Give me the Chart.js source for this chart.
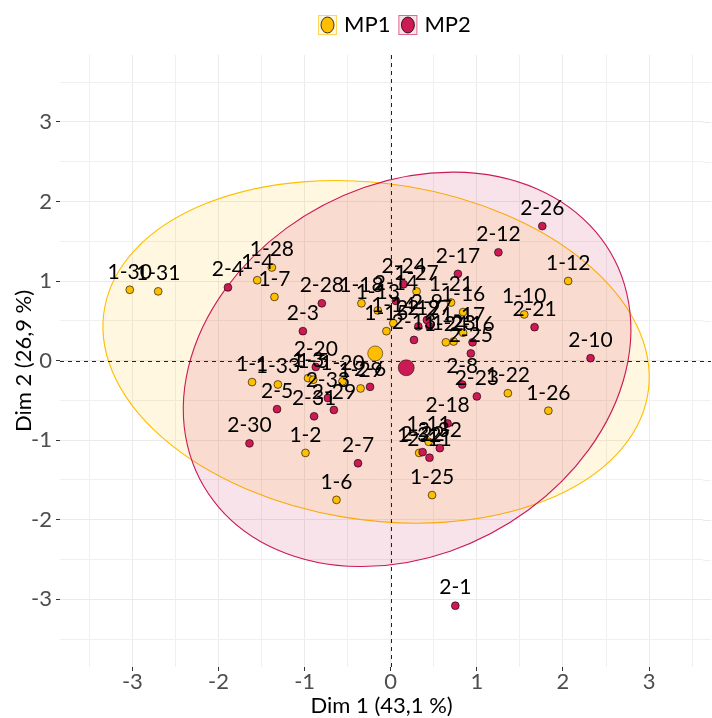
<!DOCTYPE html>
<html><head><meta charset="utf-8">
<script src="https://cdn.jsdelivr.net/npm/chart.js@4.4.0/dist/chart.umd.min.js"></script>
<style>html,body{margin:0;padding:0;background:#fff}</style>
</head><body>
<canvas id="c" width="712" height="718" style="display:block;width:712px;height:718px"></canvas>
<script>
// ---- data ----
const groupNames = ['MP1', 'MP2'];
const mp1Labels = ['1-1','1-2','1-3','1-4','1-5','1-6','1-7','1-10','1-11','1-12','1-13','1-14','1-15','1-16','1-17','1-18','1-20','1-21','1-22','1-23','1-24','1-25','1-26','1-27','1-28','1-29','1-30','1-31','1-32','1-33'];
const mp1X = [-1.61,-0.99,-0.96,-1.55,-0.90,-0.63,-1.35,1.55,0.44,2.06,-0.15,0.03,-0.05,0.84,0.84,-0.34,-0.56,0.70,1.36,0.73,0.64,0.48,1.83,0.30,-1.38,-0.35,-3.03,-2.70,0.33,-1.31];
const mp1Y = [-0.27,-1.16,-0.22,1.01,-0.24,-1.75,0.80,0.58,-1.02,1.00,0.63,0.47,0.37,0.61,0.35,0.72,-0.26,0.73,-0.41,0.24,0.23,-1.69,-0.63,0.87,1.17,-0.35,0.89,0.87,-1.16,-0.30];
const mp2Labels = ['2-1','2-3','2-4','2-5','2-6','2-7','2-8','2-9','2-10','2-11','2-12','2-13','2-14','2-16','2-17','2-18','2-19','2-20','2-21','2-22','2-23','2-24','2-25','2-26','2-27','2-28','2-29','2-30','2-31','2-32','2-33'];
const mp2X = [0.75,-1.02,-1.89,-1.32,-0.24,-0.38,0.83,0.42,2.32,0.45,1.25,0.27,0.06,0.95,0.78,0.66,0.32,-0.87,1.67,0.37,1.00,0.15,0.93,1.76,0.45,-0.80,-0.66,-1.64,-0.89,0.57,-0.73];
const mp2Y = [-3.08,0.37,0.92,-0.61,-0.33,-1.29,-0.30,0.51,0.03,-1.22,1.36,0.26,0.75,0.23,1.09,-0.79,0.43,-0.08,0.42,-1.15,-0.45,0.96,0.09,1.69,0.43,0.72,-0.62,-1.04,-0.70,-1.10,-0.47];
const meanX = [-0.18, 0.18];
const meanY = [0.09, -0.09];
// confidence ellipses (data units)
const ellipseCenterX = [-0.17, 0.19];
const ellipseCenterY = [0.11, -0.11];
const ellipseSemiMajor = [3.20, 2.79];
const ellipseSemiMinor = [2.11, 2.26];
const ellipseAngleDeg = [-10.2, 38.4];
// axes
const xTickValues = [-3,-2,-1,0,1,2,3];
const yTickValues = [-3,-2,-1,0,1,2,3];
const gridValues = [-3.5,-3,-2.5,-2,-1.5,-1,-0.5,0,0.5,1,1.5,2,2.5,3,3.5];
const xTitle = 'Dim 1 (43,1 %)';
const yTitle = 'Dim 2 (26,9 %)';

// ---- styles ----
const COL = ['#FFBE00', '#CC1A55'];
const FILL = ['rgba(255,190,0,0.12)', 'rgba(204,26,85,0.12)'];
const FONT = 'Lato, "Open Sans", sans-serif';
const PANEL_RIGHT = 711; // reference panel's right edge (gridlines run to here)

const pts = (xs, ys) => xs.map((v, i) => ({x: v, y: ys[i]}));
const isInt = v => Math.abs(v - Math.round(v)) < 1e-9;

const ellipsePlugin = {
  id: 'ellipses',
  beforeDatasetsDraw(chart) {
    const {ctx, scales: {x, y}} = chart;
    const L = x.getPixelForValue(x.min), R = x.getPixelForValue(x.max);
    const T = y.getPixelForValue(y.max), B = y.getPixelForValue(y.min);
    ctx.save();
    // continue the horizontal gridlines to the panel edge
    ctx.lineWidth = 1;
    gridValues.forEach(v => {
      const py = Math.round(y.getPixelForValue(v)) + 0.5;
      ctx.strokeStyle = isInt(v) ? '#EBEBEB' : '#F0F0F0';
      ctx.beginPath(); ctx.moveTo(R, py); ctx.lineTo(PANEL_RIGHT, py); ctx.stroke();
    });
    ctx.beginPath(); ctx.rect(L, T, PANEL_RIGHT - L, B - T); ctx.clip();
    const sx = x.getPixelForValue(1) - x.getPixelForValue(0);
    const sy = y.getPixelForValue(0) - y.getPixelForValue(1);
    for (let g = 0; g < 2; g++) {
      ctx.save();
      ctx.translate(x.getPixelForValue(ellipseCenterX[g]), y.getPixelForValue(ellipseCenterY[g]));
      ctx.scale(sx, -sy);
      ctx.rotate(ellipseAngleDeg[g] * Math.PI / 180);
      ctx.beginPath();
      ctx.ellipse(0, 0, ellipseSemiMajor[g], ellipseSemiMinor[g], 0, 0, Math.PI * 2);
      ctx.restore();
      ctx.fillStyle = FILL[g];
      ctx.fill();
      ctx.strokeStyle = COL[g];
      ctx.lineWidth = 1.1;
      ctx.stroke();
    }
    ctx.setLineDash([4, 4]);
    ctx.strokeStyle = '#222';
    ctx.lineWidth = 1;
    const x0 = Math.round(x.getPixelForValue(0)) + 0.5;
    const y0 = Math.round(y.getPixelForValue(0)) + 0.5;
    ctx.beginPath(); ctx.moveTo(x0, T); ctx.lineTo(x0, B); ctx.stroke();
    ctx.beginPath(); ctx.moveTo(L, y0); ctx.lineTo(PANEL_RIGHT, y0); ctx.stroke();
    ctx.restore();
  }
};

const labelPlugin = {
  id: 'pointLabels',
  afterDatasetDraw(chart, args) {
    if (args.index !== 2) return;
    const ctx = chart.ctx;
    ctx.save();
    ctx.font = '21px ' + FONT;
    ctx.fillStyle = '#000';
    ctx.textAlign = 'center';
    ctx.textBaseline = 'middle';
    [[3, mp1Labels], [2, mp2Labels]].forEach(([di, labs]) => {
      const meta = chart.getDatasetMeta(di);
      meta.data.forEach((el, i) => ctx.fillText(labs[i], el.x, el.y - 18));
    });
    ctx.restore();
  }
};

const legendPlugin = {
  id: 'customLegend',
  afterDraw(chart) {
    const ctx = chart.ctx;
    ctx.save();
    ctx.font = '22px ' + FONT;
    const keyW = 19, gap = 7, between = 8, cy = 25;
    const widths = groupNames.map(n => ctx.measureText(n).width);
    let xx = 318;
    groupNames.forEach((n, g) => {
      ctx.fillStyle = FILL[g];
      ctx.fillRect(xx, cy - 10, keyW, 20);
      ctx.strokeStyle = COL[g];
      ctx.globalAlpha = 0.6;
      ctx.lineWidth = 1;
      ctx.strokeRect(xx + 0.5, cy - 9.5, keyW - 1, 19);
      ctx.globalAlpha = 1;
      ctx.beginPath();
      ctx.ellipse(xx + keyW / 2, cy, 6.5, 8, 0, 0, Math.PI * 2);
      ctx.fillStyle = COL[g];
      ctx.fill();
      ctx.strokeStyle = 'rgba(0,0,0,0.75)';
      ctx.stroke();
      ctx.fillStyle = '#000';
      ctx.textAlign = 'left';
      ctx.textBaseline = 'middle';
      ctx.fillText(n, xx + keyW + gap, cy);
      xx += keyW + gap + widths[g] + between;
    });
    ctx.restore();
  }
};

const gridOpts = {
  color: c => (c.tick && isInt(c.tick.value)) ? '#EBEBEB' : '#F0F0F0',
  lineWidth: 1,
  drawTicks: true,
  tickLength: 4,
  tickWidth: 1,
  tickColor: c => (c.tick && isInt(c.tick.value)) ? '#333333' : 'rgba(0,0,0,0)'
};

const chart = new Chart(document.getElementById('c'), {
  type: 'scatter',
  data: {
    datasets: [
      {label: 'MP1 mean', data: pts([meanX[0]], [meanY[0]]), backgroundColor: COL[0], borderColor: 'rgba(0,0,0,0.6)', borderWidth: 0.8, pointRadius: 7.5},
      {label: 'MP2 mean', data: pts([meanX[1]], [meanY[1]]), backgroundColor: COL[1], borderColor: 'rgba(0,0,0,0.6)', borderWidth: 0.8, pointRadius: 8},
      {label: 'MP2', data: pts(mp2X, mp2Y), backgroundColor: COL[1], borderColor: 'rgba(0,0,0,0.75)', borderWidth: 0.8, pointRadius: 3.9},
      {label: 'MP1', data: pts(mp1X, mp1Y), backgroundColor: COL[0], borderColor: 'rgba(0,0,0,0.75)', borderWidth: 0.8, pointRadius: 3.9}
    ]
  },
  options: {
    responsive: false,
    animation: false,
    devicePixelRatio: 1,
    layout: {padding: {top: 55, right: 1, left: 0, bottom: 0}},
    plugins: {legend: {display: false}, tooltip: {enabled: false}},
    elements: {point: {hoverRadius: 4}},
    scales: {
      x: {
        type: 'linear', min: -3.84, max: 3.628,
        afterBuildTicks: s => { s.ticks = gridValues.map(v => ({value: v})); },
        afterFit: s => { s.height = 51; },
        grid: gridOpts,
        border: {display: false},
        ticks: {autoSkip: false, maxRotation: 0, padding: -2, color: '#4D4D4D', font: {family: FONT, size: 22},
          callback: v => xTickValues.includes(v) ? String(v) : ''},
        title: {display: true, text: xTitle, color: '#000', font: {family: FONT, size: 22}, padding: {top: 0, bottom: -1}}
      },
      y: {
        type: 'linear', min: -3.85, max: 3.84,
        afterBuildTicks: s => { s.ticks = gridValues.map(v => ({value: v})); },
        afterFit: s => { s.width = 60; },
        grid: gridOpts,
        border: {display: false},
        ticks: {autoSkip: false, padding: 4, color: '#4D4D4D', font: {family: FONT, size: 22},
          callback: v => yTickValues.includes(v) ? String(v) : ''},
        title: {display: true, text: yTitle, color: '#000', font: {family: FONT, size: 22}, padding: {top: 11, bottom: 0}}
      }
    }
  },
  plugins: [ellipsePlugin, labelPlugin, legendPlugin]
});
</script>
</body></html>
